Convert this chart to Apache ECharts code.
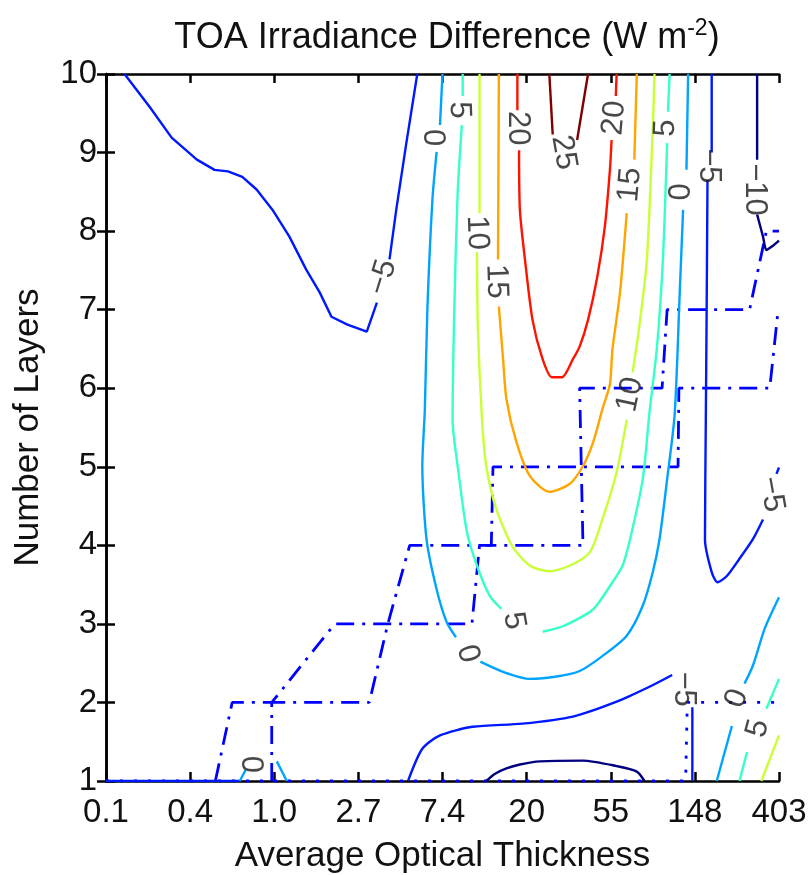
<!DOCTYPE html>
<html>
<head>
<meta charset="utf-8">
<script src="https://cdn.jsdelivr.net/npm/echarts@6/dist/echarts.min.js"></script>
<style>
  html, body { margin: 0; padding: 0; background: #ffffff; }
  #chart { width: 811px; height: 875px; }
</style>
</head>
<body>
<div id="chart"></div>
<script>
// Axis tick labels (x positions are evenly spaced steps of optical thickness)
const tickLabels = ['0.1', '0.4', '1.0', '2.7', '7.4', '20', '55', '148', '403'];
const layerTicks = [1, 2, 3, 4, 5, 6, 7, 8, 9, 10];

// Contour lines, one array per level; each entry is a segment of [x, layers] points
const level_m10 = [
  [[7.74, 10], [7.74, 8.91]],
  [[7.74, 8.21], [7.81, 7.93], [7.85, 7.76], [7.91, 7.80], [8.00, 7.88]],
  [[4.52, 1], [4.62, 1.09], [4.76, 1.16], [4.92, 1.21], [5.16, 1.25], [5.67, 1.26], [6.07, 1.19], [6.31, 1.12], [6.40, 1]]
];
const level_m5_ridge = [
  [[0.22, 10], [0.52, 9.58], [0.78, 9.19], [1.08, 8.91], [1.29, 8.78], [1.45, 8.76], [1.62, 8.69], [1.79, 8.53],
   [1.98, 8.27], [2.18, 7.93], [2.38, 7.51], [2.54, 7.22], [2.68, 6.91], [2.87, 6.81], [3.10, 6.72], [3.22, 7.09]],
  [[3.37, 7.64], [3.45, 8.27], [3.57, 9.12], [3.70, 10]],
  [[0, 1], [1.59, 1]]
];
const level_m5 = [
  [[7.20, 10], [7.20, 9.00]],
  [[7.15, 8.65], [7.14, 7.00], [7.13, 5.60], [7.12, 4.08], [7.20, 3.66], [7.27, 3.53], [7.38, 3.61], [7.53, 3.83], [7.69, 4.08], [7.81, 4.33]],
  [[7.97, 4.91], [8.00, 4.99]],
  [[3.59, 1], [3.76, 1.41], [3.97, 1.58], [4.36, 1.69], [4.95, 1.73], [5.55, 1.82], [6.07, 2.01], [6.46, 2.20], [6.73, 2.35]],
  [[6.97, 1.94], [6.97, 1]]
];
const level_0 = [
  [[4.00, 10], [3.97, 9.35]],
  [[3.93, 9.01], [3.88, 8.40], [3.82, 7.00], [3.79, 5.73], [3.76, 5.01], [3.81, 4.08], [3.93, 3.44], [4.05, 3.02], [4.16, 2.83]],
  [[4.45, 2.52], [4.72, 2.39], [5.04, 2.30], [5.36, 2.33], [5.63, 2.40], [5.90, 2.59], [6.19, 2.85], [6.38, 3.23],
   [6.50, 3.66], [6.58, 4.08], [6.67, 4.84], [6.76, 5.67], [6.82, 7.22], [6.86, 8.27]],
  [[6.90, 8.78], [6.92, 10]],
  [[1.59, 1], [1.66, 1.14]],
  [[2.03, 1.25], [2.15, 1]],
  [[8.00, 3.34], [7.83, 2.94], [7.69, 2.47], [7.59, 2.24]],
  [[7.44, 1.70], [7.26, 1]]
];
const level_5 = [
  [[4.24, 10], [4.24, 9.72]],
  [[4.23, 9.35], [4.18, 8.49], [4.14, 7.00], [4.12, 5.60], [4.18, 5.01], [4.29, 4.17], [4.41, 3.74], [4.56, 3.36], [4.70, 3.19]],
  [[5.19, 2.90], [5.43, 2.97], [5.75, 3.15], [5.83, 3.23], [6.02, 3.53], [6.14, 3.74], [6.23, 4.08], [6.38, 4.84],
   [6.46, 5.69], [6.55, 6.53], [6.62, 7.64], [6.67, 9.12]],
  [[6.68, 9.52], [6.70, 10]],
  [[8.00, 2.30], [7.85, 1.92]],
  [[7.62, 1.37], [7.53, 1]]
];
const level_10 = [
  [[4.44, 10], [4.44, 8.23]],
  [[4.41, 7.73], [4.42, 6.79], [4.47, 5.60], [4.52, 5.01], [4.64, 4.46], [4.83, 3.99], [5.04, 3.74], [5.27, 3.67],
   [5.51, 3.74], [5.75, 3.91], [5.90, 4.33], [6.07, 4.93], [6.19, 5.60]],
  [[6.26, 6.20], [6.34, 6.79], [6.43, 7.64], [6.50, 9.33], [6.52, 10]],
  [[8.00, 1.58], [7.79, 1]]
];
const level_15 = [
  [[4.67, 10], [4.66, 7.64]],
  [[4.67, 7.04], [4.72, 6.37], [4.76, 5.86], [4.88, 5.31], [5.04, 4.88], [5.27, 4.68], [5.51, 4.78], [5.67, 5.01],
   [5.79, 5.31], [5.90, 5.73], [5.99, 6.05], [6.02, 6.49], [6.11, 7.22], [6.19, 8.23]],
  [[6.28, 8.91], [6.31, 10]]
];
const level_20 = [
  [[4.89, 10], [4.89, 9.54]],
  [[4.91, 9.03], [4.92, 8.27], [4.98, 7.64], [5.07, 6.87], [5.19, 6.37], [5.30, 6.14], [5.42, 6.14], [5.55, 6.37],
   [5.63, 6.53], [5.73, 6.87], [5.84, 7.42], [5.93, 8.06], [5.99, 8.78], [6.01, 9.16]],
  [[6.06, 9.72], [6.07, 10]]
];
const level_25 = [
  [[5.27, 10], [5.31, 9.23]],
  [[5.73, 10], [5.60, 9.16]]
];

// Inline contour labels: [x, layers, level]
const contourLabels = [
  [3.29, 7.41, -5], [3.94, 9.19, 0], [4.20, 9.54, 5], [4.41, 7.98, 10], [4.64, 7.36, 15], [4.89, 9.31, 20],
  [5.44, 9.00, 25], [6.04, 9.44, 20], [6.23, 8.59, 15], [6.23, 5.92, 10], [6.65, 9.31, 5], [6.84, 8.50, 0],
  [7.16, 8.83, -5], [7.71, 8.53, -10], [4.30, 2.62, 0], [4.85, 3.04, 5], [6.86, 2.17, -5], [7.91, 4.65, -5],
  [7.50, 2.05, 0], [7.75, 1.67, 5], [1.78, 1.21, 0]
];

// Layer-count step boundaries
const stepsLower = [[1.30, 1], [1.50, 2], [1.97, 2], [2.72, 3], [4.35, 3], [4.44, 4], [4.58, 4], [4.60, 5],
  [6.80, 5], [6.81, 6], [7.89, 6], [7.99, 7], [8, 7]];
const stepsUpper = [[1.97, 1], [1.97, 2], [3.13, 2], [3.35, 3], [3.61, 4], [5.67, 4], [5.63, 6], [6.61, 6],
  [6.67, 7], [7.65, 7], [7.85, 8], [8, 8]];
const stepsDotted = [[0, 1], [6.89, 1], [6.91, 2], [8, 2]];

// ---- drawing ----
const FONT = '"Liberation Sans", Arial, Helvetica, sans-serif';
const INK = '#111111';

// jet colours for the contour levels
const contourSets = [
  { segs: level_m10, color: '#000080' },
  { segs: level_m5_ridge, color: '#0018ff', sharp: true },
  { segs: level_m5, color: '#0018ff' },
  { segs: level_0, color: '#00a4ff' },
  { segs: level_5, color: '#37ffc8' },
  { segs: level_10, color: '#c8ff37' },
  { segs: level_15, color: '#ffa400' },
  { segs: level_20, color: '#ff1200' },
  { segs: level_25, color: '#800000' }
];
// text direction of each inline label, degrees counter-clockwise
const labelAngles = [73, 90, -88, -88, -88, -90, -80, 85, 85, 78, 88, 90, -90, -90, -75, -80, -90, -80, 70, 75, 90];

const series = [];
const stepStyle = { color: '#0000ff', width: 2.8 };
series.push({ type: 'line', data: stepsLower, symbol: 'none', silent: true, z: 2,
  lineStyle: Object.assign({ type: [18, 8, 3, 8] }, stepStyle) });
series.push({ type: 'line', data: stepsUpper, symbol: 'none', silent: true, z: 2,
  lineStyle: Object.assign({ type: [18, 8, 3, 8] }, stepStyle) });
series.push({ type: 'line', data: stepsDotted, symbol: 'none', silent: true, z: 2,
  lineStyle: Object.assign({ type: [3, 11] }, stepStyle) });

contourSets.forEach(set => {
  set.segs.forEach(seg => {
    series.push({
      type: 'line', data: seg, symbol: 'none', silent: true, z: 3,
      smooth: set.sharp ? false : 0.25,
      lineStyle: { color: set.color, width: 2.4 }
    });
  });
});

const fmtLevel = v => (v < 0 ? '\u2212' + Math.abs(v) : String(v));
series.push({
  type: 'scatter', symbolSize: 1, silent: true, z: 5,
  itemStyle: { color: 'rgba(0,0,0,0)' },
  data: contourLabels.map((d, i) => ({ value: d, label: { rotate: labelAngles[i] } })),
  label: {
    show: true, position: 'inside', fontSize: 31, fontFamily: FONT, color: '#1a1a1a',
    formatter: p => fmtLevel(p.value[2])
  }
});

const frameLine = { show: true, lineStyle: { color: '#000', width: 2.5 } };
const frameTick = { show: true, inside: true, length: 9, lineStyle: { color: '#000', width: 2.5 } };

const option = {
  animation: false,
  backgroundColor: '#ffffff',
  title: {
    text: 'TOA Irradiance Difference (W m{sup|-2})',
    left: 442, top: 12, textAlign: 'center',
    textStyle: {
      fontFamily: FONT, fontSize: 36, fontWeight: 'normal', color: INK, lineHeight: 42,
      rich: { sup: { fontFamily: FONT, fontSize: 23, lineHeight: 23, verticalAlign: 'top', color: INK } }
    }
  },
  grid: { left: 106, right: 32, top: 74, bottom: 94, containLabel: false, outerBoundsMode: 'none' },
  xAxis: [
    {
      type: 'value', position: 'bottom', min: 0, max: tickLabels.length - 1, interval: 1,
      axisLine: frameLine, axisTick: frameTick, splitLine: { show: false },
      axisLabel: { fontFamily: FONT, fontSize: 33, color: INK, margin: 15, formatter: v => tickLabels[v] },
      name: 'Average Optical Thickness', nameLocation: 'middle', nameGap: 58,
      nameTextStyle: { fontFamily: FONT, fontSize: 35, color: INK }
    },
    {
      type: 'value', position: 'top', min: 0, max: tickLabels.length - 1, interval: 1,
      axisLine: frameLine, axisTick: frameTick, splitLine: { show: false }, axisLabel: { show: false }
    }
  ],
  yAxis: [
    {
      type: 'value', position: 'left', min: layerTicks[0], max: layerTicks[layerTicks.length - 1], interval: 1,
      axisLine: frameLine, axisTick: frameTick, splitLine: { show: false },
      axisLabel: { fontFamily: FONT, fontSize: 33, color: INK, margin: 9 },
      name: 'Number of Layers', nameLocation: 'middle', nameGap: 60,
      nameTextStyle: { fontFamily: FONT, fontSize: 35, color: INK }
    },
    {
      type: 'value', position: 'right', min: layerTicks[0], max: layerTicks[layerTicks.length - 1], interval: 1,
      axisLine: frameLine, axisTick: frameTick, splitLine: { show: false }, axisLabel: { show: false }
    }
  ],
  series: series
};

const chart = echarts.init(document.getElementById('chart'), null, { renderer: 'canvas' });
chart.setOption(option);
</script>
</body>
</html>
